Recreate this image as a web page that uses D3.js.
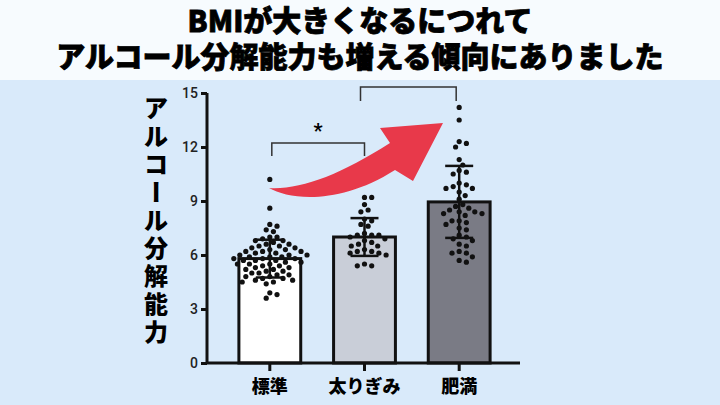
<!DOCTYPE html><html><head><meta charset="utf-8"><script src="https://cdn.jsdelivr.net/npm/d3@7"></script>
<style>body{margin:0}svg{display:block}</style></head><body><svg width="720" height="405"></svg><script>
const categories=["標準","太りぎみ","肥満"];
const means=[5.8,7.0,8.95];
const sds=[1.05,1.05,2.0];
const barColors=["#ffffff","#c9ced8","#7a7b85"];
const yTicks=[0,3,6,9,12,15];
const g1=[10.2,8.6,7.7,7.6,7.4,7.3,7.0,7.0,6.9,6.8,6.8,6.7,6.6,6.6,6.5,6.5,6.4,6.4,6.3,6.3,6.2,6.2,6.2,6.1,6.1,6.0,6.0,6.0,5.9,5.9,5.9,5.8,5.8,5.8,5.7,5.7,5.7,5.6,5.6,5.5,5.5,5.5,5.4,5.4,5.3,5.3,5.2,5.2,5.1,5.1,5.0,5.0,4.9,4.9,4.8,4.8,4.7,4.7,4.6,4.6,4.5,4.5,4.4,3.9,3.8,3.6];
const g2=[9.2,9.2,8.8,8.5,8.4,8.0,7.9,7.7,7.6,7.2,7.1,7.1,7.1,7.0,6.9,6.8,6.7,6.6,6.5,6.5,6.3,6.2,6.2,6.1,6.1,6.0,5.5,5.4,5.4];
const g3=[14.2,13.5,12.3,12.2,12.0,11.3,11.0,10.7,10.6,10.5,10.0,9.9,9.8,9.7,9.7,9.5,9.3,9.1,8.8,8.7,8.6,8.5,8.4,8.4,8.3,8.3,8.2,7.9,7.9,7.8,7.7,7.5,7.4,7.1,7.0,6.9,6.8,6.6,6.5,6.2,6.1,6.1,5.9,5.7,5.6];
const groups=[g1,g2,g3];
const svg=d3.select("svg");
svg.append("rect").attr("width",720).attr("height",405).attr("fill","#d9eafa");
svg.append("rect").attr("width",720).attr("height",80).attr("fill","#f7fbfe");
const F="'Noto Sans CJK JP',sans-serif";
[["BMIが大きくなるにつれて",32],["アルコール分解能力も増える傾向にありました",68]].forEach(([t,yy])=>
 svg.append("text").attr("x",360).attr("y",yy).attr("text-anchor","middle").attr("font-family",F).attr("font-weight",900).attr("font-size",29).attr("stroke","#000").attr("stroke-width",0.8).text(t));
const x=d3.scaleBand().domain(categories).range([222.8,506.2]).paddingInner(0.347).paddingOuter(0.17);
const y=d3.scaleLinear().domain([0,15]).range([363,93]);
svg.selectAll(".bar").data(categories).join("rect").attr("x",d=>x(d)).attr("width",x.bandwidth())
 .attr("y",(d,i)=>y(means[i])).attr("height",(d,i)=>y(0)-y(means[i])).attr("fill",(d,i)=>barColors[i]).attr("stroke","#111").attr("stroke-width",3);
const r=2.6;
groups.forEach((vals,i)=>{
  const cx=x(categories[i])+x.bandwidth()/2;
  const placed=[];
  vals.forEach(v=>{
    const py=y(v);let best=0;
    for(let k=0;k<200;k++){
      const off=(k%2?1:-1)*Math.ceil(k/2)*1.2;
      if(placed.every(p=>Math.hypot(p[0]-(cx+off),p[1]-py)>=2*r+1.2)){best=off;break;}
    }
    placed.push([cx+best,py]);
  });
  svg.append("g").selectAll("circle").data(placed).join("circle").attr("cx",d=>d[0]).attr("cy",d=>d[1]).attr("r",r).attr("fill","#111");
  const eg=svg.append("g").attr("stroke","#111").attr("stroke-width",2.5);
  eg.append("line").attr("x1",cx).attr("x2",cx).attr("y1",y(means[i]-sds[i])).attr("y2",y(means[i]+sds[i]));
  [means[i]-sds[i],means[i]+sds[i]].forEach(v=>eg.append("line").attr("x1",cx-14).attr("x2",cx+14).attr("y1",y(v)).attr("y2",y(v)));
});
const ya=svg.append("g").attr("transform","translate(207,0)").call(d3.axisLeft(y).tickValues(yTicks).tickSize(6));
ya.selectAll("path,line").attr("stroke","#111").attr("stroke-width",3);
ya.select(".domain").attr("d","M0,363V93");
ya.selectAll("text").attr("font-family","Roboto,sans-serif").attr("font-size",14).attr("font-weight",500).attr("fill","#222");
const xa=svg.append("g").attr("transform","translate(0,363)").call(d3.axisBottom(x).tickSize(8).tickFormat(""));
xa.selectAll("path,line").attr("stroke","#111").attr("stroke-width",3);
xa.select(".domain").attr("d","M206,0H520");
categories.forEach(c=>svg.append("text").attr("x",x(c)+x.bandwidth()/2).attr("y",393).attr("text-anchor","middle").attr("font-family",F).attr("font-weight",900).attr("font-size",18).text(c));
const yl="アルコール分解能力".split("");
yl.forEach((ch,i)=>svg.append("text").attr("x",156).attr("y",117+i*28).attr("text-anchor","middle").attr("font-family",F).attr("font-weight",900).attr("font-size",24).attr("transform",ch==="ー"?`rotate(90,156,${108+i*28})`:null).text(ch));
const cxs=categories.map(c=>x(c)+x.bandwidth()/2);
const br=svg.append("g").attr("fill","none").attr("stroke","#333").attr("stroke-width",1.5);
br.append("path").attr("d",`M${cxs[0]+2},156V143H${cxs[1]}V156`);
br.append("path").attr("d",`M${cxs[1]-4},101V87H${cxs[2]-3}V101`);
svg.append("text").attr("x",318).attr("y",138).attr("text-anchor","middle").attr("font-family","Roboto,sans-serif").attr("font-weight",700).attr("font-size",20).text("*");
svg.append("path").attr("fill","#e8394a")
 .attr("d","M269,188 C290,200 340,205 395,170 L413,181 L443,123 L380,128 L390,143 C340,175 300,190 269,188 Z");
</script></body></html>
